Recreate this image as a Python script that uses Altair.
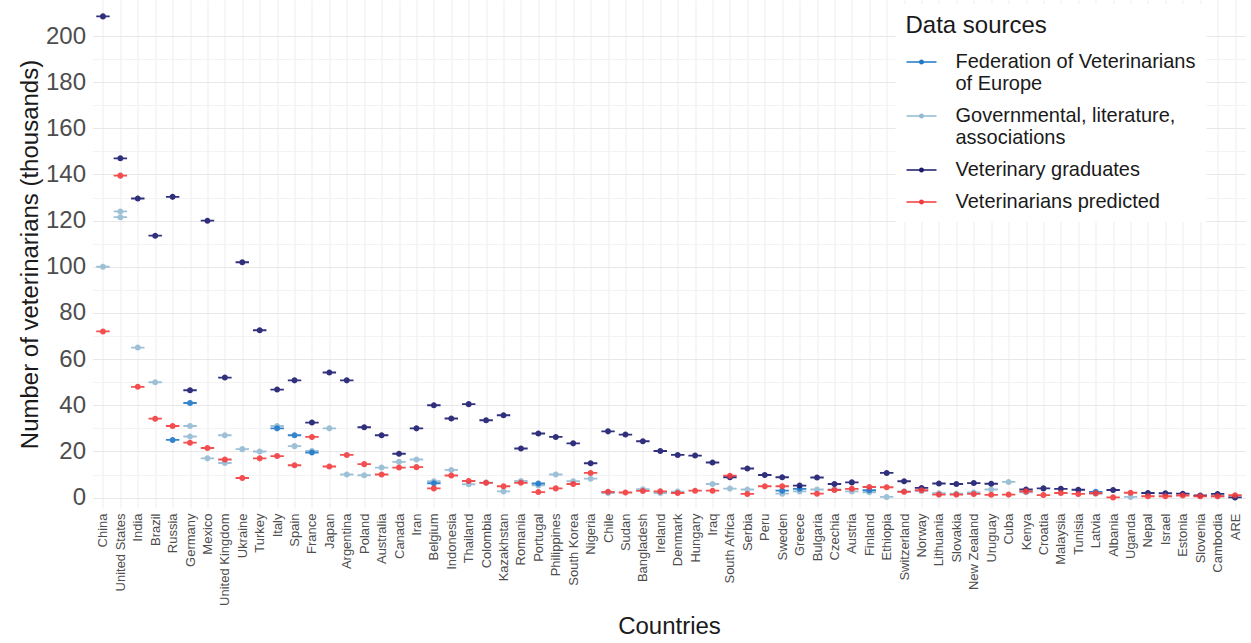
import altair as alt
import pandas as pd

# Countries in plotting order (by estimated number of veterinarians)
countries = [
    "China", "United States", "India", "Brazil", "Russia", "Germany", "Mexico",
    "United Kingdom", "Ukraine", "Turkey", "Italy", "Spain", "France", "Japan",
    "Argentina", "Poland", "Australia", "Canada", "Iran", "Belgium", "Indonesia",
    "Thailand", "Colombia", "Kazakhstan", "Romania", "Portugal", "Philippines",
    "South Korea", "Nigeria", "Chile", "Sudan", "Bangladesh", "Ireland", "Denmark",
    "Hungary", "Iraq", "South Africa", "Serbia", "Peru", "Sweden", "Greece",
    "Bulgaria", "Czechia", "Austria", "Finland", "Ethiopia", "Switzerland",
    "Norway", "Lithuania", "Slovakia", "New Zealand", "Uruguay", "Cuba", "Kenya",
    "Croatia", "Malaysia", "Tunisia", "Latvia", "Albania", "Uganda", "Nepal",
    "Israel", "Estonia", "Slovenia", "Cambodia", "ARE",
]

# Veterinarians (thousands) by data source; None = no estimate from that source
fve = [
    None, None, None, None, 25, 41, None, None, None, None, 30, 27, 19.5, None,
    None, None, None, None, None, 6.2, None, None, None, None, None, 6.1, None,
    None, None, None, None, None, None, None, None, None, None, None, None, 3.0,
    3.8, None, None, None, 3.2, None, None, None, None, None, None, None, None,
    None, None, None, None, 2.5, None, None, None, None, None, None, None, None,
]
gov = [
    100, 124, 65, 50, None, 31, 17, 27, 21, 20, 31, 22.3, 20.2, 30,
    10, 9.7, 13, 15.5, 16.5, 7.1, 12, 5.8, 6.5, 2.7, 7.2, 5.3, 10,
    7.1, 8.2, 2.0, None, 3.6, 2.0, 2.6, None, 5.9, 3.9, 3.5, None, 1.7,
    2.7, 3.5, 3.5, 2.7, 2.3, 0.3, 2.7, 2.9, 1.9, 1.7, 2.2, 3.5, 6.8,
    2.3, None, None, None, 1.7, None, 0.3, None, None, None, None, 0.6, None,
]
gov_second = [
    None, 121.5, None, None, None, 26.5, None, 15, None, None, None, None, None, None,
    None, None, None, None, None, None, None, None, None, None, None, None, None,
    None, None, None, None, None, None, None, None, None, None, None, None, None,
    None, None, None, None, None, None, None, None, None, None, None, None, None,
    None, None, None, None, None, None, None, None, None, None, None, None, None,
]
graduates = [
    208.5, 147, 129.6, 113.5, 130.3, 46.5, 120, 52, 102, 72.5, 46.8, 50.8, 32.5, 54.2,
    50.8, 30.5, 27, 19, 30, 40, 34.3, 40.5, 33.5, 35.7, 21.3, 27.8, 26.3,
    23.5, 14.9, 28.7, 27.3, 24.4, 20.2, 18.5, 18.2, 15.2, 8.8, 12.6, 9.8, 8.8,
    5.2, 8.7, 5.9, 6.6, None, 10.7, 7.1, 4.2, 6.1, 5.9, 6.3, 6.0, None,
    3.5, 4.0, 3.8, 3.4, None, 3.3, None, 2.0, 1.9, 1.7, 0.9, 1.6, 0.1,
]
predicted = [
    72, 139.5, 48, 34.2, 31, 23.8, 21.5, 16.5, 8.5, 17, 18, 14, 26.3, 13.5,
    18.5, 14.5, 10, 13, 13.2, 4, 9.6, 7.2, 6.4, 4.9, 6.4, 2.4, 4,
    5.9, 10.7, 2.5, 2.2, 2.9, 2.7, 2.0, 3.0, 3.0, 9.5, 1.6, 4.9, 4.9,
    None, 1.7, 3.3, 3.8, 4.6, 4.5, 2.5, 3.2, 1.3, 1.3, 1.6, 1.2, 1.3,
    2.7, 1.1, 2.0, 1.6, 1.9, 0.1, 2.1, 0.6, 0.6, 0.9, 0.6, 0.6, 1.0,
]

sources = [
    "Federation of Veterinarians of Europe",
    "Governmental, literature, associations",
    "Veterinary graduates",
    "Veterinarians predicted",
]
palette = ["#1F78C8", "#93BAD3", "#1B1A6E", "#F23B3D"]

series = [
    (sources[1], gov),
    (sources[1], gov_second),
    (sources[0], fve),
    (sources[2], graduates),
    (sources[3], predicted),
]
rows = []
for source, values in series:
    for country, v in zip(countries, values):
        if v is not None:
            rows.append({"country": country, "source": source, "value": v})
df = pd.DataFrame(rows)

# Point with a short horizontal whisker, drawn as one filled symbol
WHISKER = ("M-1,-0.14L1,-0.14L1,0.14L-1,0.14Z "
           "M0.45,0A0.45,0.45 0 1,1 -0.45,0A0.45,0.45 0 1,1 0.45,0Z")
LEGEND_KEY = ("M-1,-0.055L1,-0.055L1,0.055L-1,0.055Z "
              "M0.17,0A0.17,0.17 0 1,1 -0.17,0A0.17,0.17 0 1,1 0.17,0Z")

label_expr = (
    "datum.label == 'Federation of Veterinarians of Europe' ? "
    "['Federation of Veterinarians', 'of Europe'] : "
    "datum.label == 'Governmental, literature, associations' ? "
    "['Governmental, literature,', 'associations'] : datum.label"
)

chart = alt.Chart(df).mark_point(
    shape=WHISKER, size=180, filled=True, opacity=0.9
).encode(
    x=alt.X(
        "country:N",
        sort=countries,
        scale=alt.Scale(type="point", padding=0.6),
        axis=alt.Axis(
            title="Countries",
            labelAngle=-90,
            labelFontSize=13,
            labelColor="#4D4D4D",
            labelPadding=5,
            labelLimit=300,
            titleFontSize=24,
            titleFontWeight="normal",
            titleColor="#1A1A1A",
            titlePadding=9,
            grid=True,
            gridColor="#EDEDED",
            ticks=False,
            domain=False,
        ),
    ),
    y=alt.Y(
        "value:Q",
        scale=alt.Scale(domain=[-4.5, 215.6], nice=False, zero=False),
        axis=alt.Axis(
            title="Number of veterinarians (thousands)",
            values=list(range(0, 201, 10)),
            labelExpr="datum.value % 20 == 0 ? datum.label : ''",
            labelFontSize=24,
            labelColor="#4D4D4D",
            labelPadding=7,
            titleFontSize=24,
            titleFontWeight="normal",
            titleColor="#1A1A1A",
            titlePadding=3,
            grid=True,
            gridColor={"condition": {"test": "datum.value % 20 == 0", "value": "#E8E8E8"},
                       "value": "#F3F3F3"},
            ticks=False,
            domain=False,
        ),
    ),
    color=alt.Color(
        "source:N",
        scale=alt.Scale(domain=sources, range=palette),
        legend=alt.Legend(
            title="Data sources",
            orient="none",
            legendX=803,
            legendY=4,
            direction="vertical",
            fillColor="white",
            padding=10,
            titleFontSize=24,
            titleFontWeight="normal",
            titleColor="#1A1A1A",
            titlePadding=8,
            labelFontSize=20,
            labelColor="#1A1A1A",
            labelLimit=400,
            labelOffset=18,
            labelExpr=label_expr,
            symbolType=LEGEND_KEY,
            symbolSize=900,
            symbolOpacity=1,
            rowPadding=6,
        ),
    ),
).properties(
    width=1153,
    height=508,
    padding={"left": 92.5, "top": 0, "right": 5.5, "bottom": 134.6},
    autosize=alt.AutoSizeParams(type="none"),
).configure(
    font="Liberation Sans",
    background="white",
).configure_view(
    stroke=None,
)

chart.save("out.html", embed_options={"renderer": "svg", "actions": False})
